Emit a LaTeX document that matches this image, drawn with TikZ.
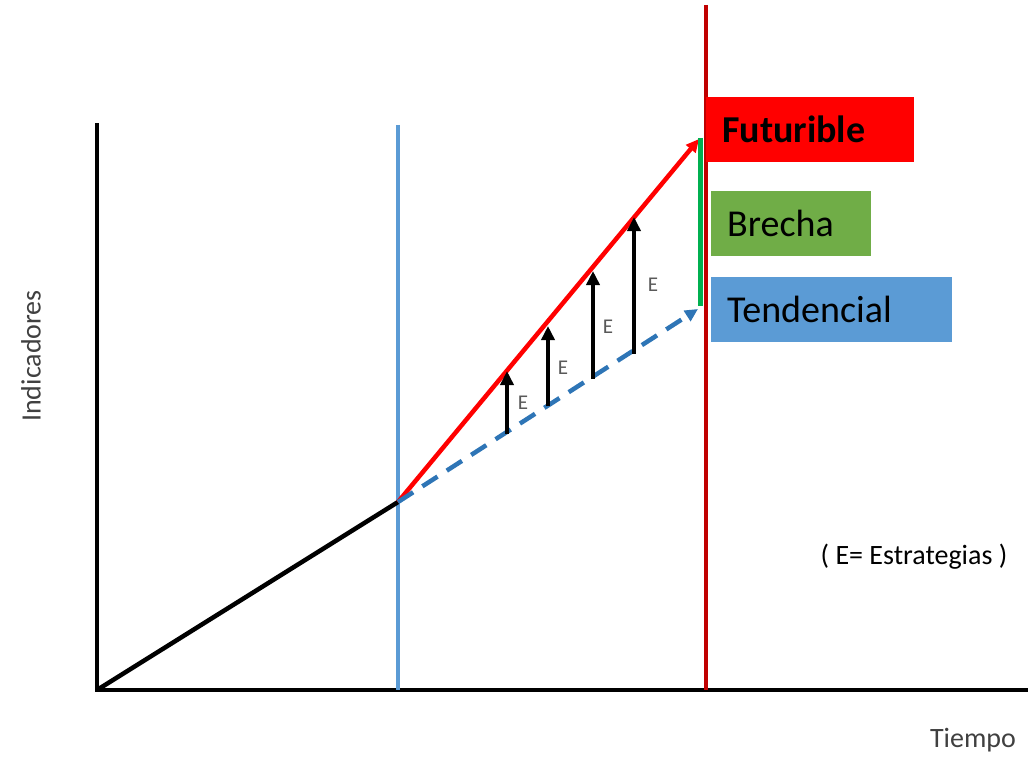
\documentclass[tikz,border=0pt]{standalone}
\usepackage{fontspec}
\setmainfont{Carlito}
\usetikzlibrary{arrows.meta}
\definecolor{futred}{HTML}{FF0000}
\definecolor{horizon}{HTML}{C00000}
\definecolor{nowblue}{HTML}{5B9BD5}
\definecolor{trendblue}{HTML}{2E75B6}
\definecolor{gapgreen}{HTML}{00B050}
\definecolor{boxgreen}{HTML}{70AD47}
\definecolor{labelgray}{HTML}{404040}
\definecolor{egray}{HTML}{595959}

\tikzset{
  axisline/.style={black, line width=4.5pt, line cap=rect},
  legendbox/.style={anchor=north west, inner xsep=16pt, inner ysep=0pt,
    minimum height=65pt, align=left, text=black,
    font=\fontsize{38}{44}\selectfont},
  stratarrow/.style={black, line width=3.5pt,
    -{Triangle[length=14pt, width=13pt]}},
}

\begin{document}
\begin{tikzpicture}[x=1pt, y=-1pt]

% Frame (pixel grid of the reference)
\useasboundingbox (0,0) rectangle (1028,757);

% Axes
\coordinate (orig) at (97,690);
\coordinate (ytop) at (97,125);
\coordinate (xend) at (1028,690);
\draw[axisline] (ytop) -- (orig) -- (xend);

% Present (blue) and horizon (dark red)
\coordinate (nowtop) at (398,125);
\coordinate (nowbot) at (398,690);
\draw[nowblue, line width=4pt] (nowtop) -- (nowbot);
\coordinate (hortop) at (705.5,5);
\coordinate (horbot) at (705.5,690);
\draw[horizon, line width=4pt] (hortop) -- (horbot);

% Past trend up to the present
\coordinate (now) at (398,502);
\draw[black, line width=4.5pt] (orig) -- (now);

% Futurible (red) and trend (dashed blue)
\coordinate (fut) at (699,139);
\coordinate (trend) at (698,309);
\draw[futred, line width=4.5pt, -{Triangle[length=13pt, width=12pt]}] (now) -- (fut);
\draw[trendblue, line width=4.5pt, dash pattern=on 18pt off 11pt,
  -{Triangle[length=13pt, width=12pt]}] (now) -- (trend);

% Gap between both
\coordinate (gaptop) at (700.5,138);
\coordinate (gapbot) at (700.5,306);
\draw[gapgreen, line width=4.5pt] (gaptop) -- (gapbot);

% Strategies E
\foreach \i/\x/\yb/\yt/\lx/\ly in {1/507/434/371/523/403, 2/548/406/326/563/368,
                                   3/593/379/271/608/327, 4/634/354/217/653/285} {
  \coordinate (eb\i) at (\x,\yb);
  \coordinate (et\i) at (\x,\yt);
  \draw[stratarrow] (eb\i) -- (et\i);
  \node[text=egray, font=\fontsize{21}{24}\selectfont] (elab\i) at (\lx,\ly) {E};
}

% Legend boxes
\node[legendbox, fill=futred, text width=176pt, font=\fontsize{38}{44}\selectfont\bfseries]
  (futbox) at (706,97) {Futurible};
\node[legendbox, fill=boxgreen, text width=128pt] (gapbox) at (711,191) {Brecha};
\node[legendbox, fill=nowblue, text width=209pt] (trendbox) at (711,277) {Tendencial};

% Axis titles and note
\node[text=labelgray, rotate=90, font=\fontsize{28}{32}\selectfont] (ylab) at (31,356) {Indicadores};
\node[text=labelgray, font=\fontsize{28}{32}\selectfont] (xlab) at (973,740) {Tiempo};
\node[text=black, font=\fontsize{28}{32}\selectfont] (note) at (914,557) {( E= Estrategias )};

\end{tikzpicture}
\end{document}
